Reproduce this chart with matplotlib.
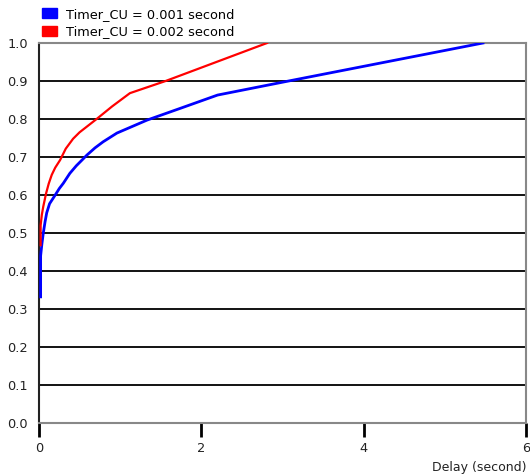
import matplotlib
matplotlib.use("Agg")
import matplotlib.pyplot as plt
from matplotlib.patches import Patch

blue_x = [0.02, 0.02, 0.035, 0.053, 0.075, 0.095, 0.13, 0.2, 0.25, 0.3, 0.38, 0.46, 0.53, 0.59, 0.69, 0.79, 0.96, 1.33, 1.74, 2.2, 2.98, 5.47]
blue_y = [0.332, 0.44, 0.47, 0.50, 0.53, 0.553, 0.577, 0.60, 0.617, 0.631, 0.657, 0.677, 0.692, 0.705, 0.724, 0.74, 0.763, 0.797, 0.828, 0.863, 0.896, 1.0]
red_x = [0.02, 0.02, 0.035, 0.053, 0.087, 0.12, 0.157, 0.2, 0.26, 0.33, 0.42, 0.5, 0.59, 0.71, 0.9, 1.12, 1.56, 2.81]
red_y = [0.468, 0.52, 0.548, 0.57, 0.604, 0.63, 0.653, 0.672, 0.692, 0.722, 0.748, 0.765, 0.78, 0.80, 0.833, 0.868, 0.90, 1.0]
labels = ["Timer_CU = 0.001 second", "Timer_CU = 0.002 second"]
colors = ["#0000ff", "#ff0000"]
xticks = [0, 2, 4, 6]
yticks = [i / 10 for i in range(11)]

plt.rcParams['font.family'] = ['DejaVu Sans']
fig = plt.figure(figsize=(5.3, 4.76), dpi=100)
ax = fig.add_axes([39/530, 1 - 423/476, (526 - 39)/530, (423 - 43)/476])

for y in yticks[1:-1]:
    ax.axhline(y, color="black", lw=1.3, zorder=1)

ax.plot(blue_x, blue_y, color=colors[0], lw=2.0, zorder=3)
ax.plot(red_x, red_y, color=colors[1], lw=1.6, zorder=3)

ax.set_xlim(0, 6)
ax.set_ylim(0, 1)
ax.set_xticks(xticks)
ax.set_xticklabels([str(t) for t in xticks])
ax.set_yticks(yticks)
ax.set_yticklabels([f"{t:.1f}" for t in yticks])
ax.tick_params(axis='x', length=10, width=2, color="black", pad=4, labelsize=9.3, labelcolor="#222222")
ax.tick_params(axis='y', length=0, pad=8, labelsize=9.3, labelcolor="#222222")

for s in ["top", "right", "bottom"]:
    ax.spines[s].set_color("#888888")
    ax.spines[s].set_linewidth(1.5)
ax.spines["left"].set_color("#222222")
ax.spines["left"].set_linewidth(1.5)

fig.text(526/530, 1 - 467/476, "Delay (second)", ha="right", va="center", fontsize=9.0, color="#222222")

handles = [Patch(facecolor=c, edgecolor=c) for c in colors]
fig.legend(handles, labels, loc="upper left", bbox_to_anchor=(38/530, 1 - 4/476),
           frameon=False, fontsize=9.3, handlelength=1.2, handleheight=0.8,
           handletextpad=0.7, labelspacing=0.35, borderaxespad=0, borderpad=0.3)

fig.savefig("out.png", dpi=100)
